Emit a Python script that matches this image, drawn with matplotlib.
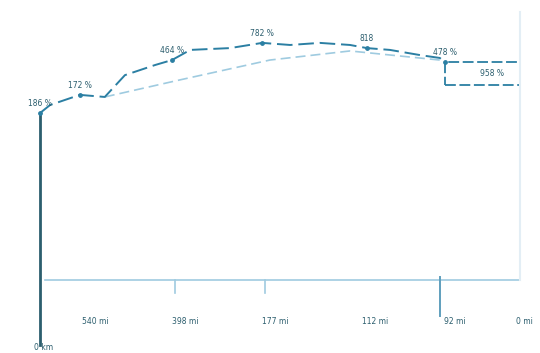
import matplotlib
matplotlib.use("Agg")
import matplotlib.pyplot as plt
from matplotlib.patches import Rectangle

# route profile, x as share of the trip (0-100), y as index value
route_x = [0, 2.1, 8.3, 13.5, 17.7, 24.0, 27.5, 31.3, 39.6, 46.3, 52.1, 58.3, 64.6, 68.1, 72.9, 79.2, 83.3, 84.4]
route_y = [64.2, 67.3, 71.2, 70.4, 78.8, 82.7, 84.6, 88.5, 89.2, 91.2, 90.4, 91.2, 90.4, 89.2, 88.5, 86.5, 85.4, 83.8]

trend_x = [13.5, 29.0, 47.9, 64.6, 83.3]
trend_y = [70.4, 76.9, 84.6, 88.1, 84.6]

point_x = [0, 8.3, 27.5, 46.3, 68.1, 84.4]
point_y = [64.2, 71.2, 84.6, 91.2, 89.2, 83.8]
point_labels = ["186 %", "172 %", "464 %", "782 %", "818", "478 %"]

box_x0, box_x1 = 84.4, 100
box_y0, box_y1 = 75.0, 83.8
box_label = "958 %"

tick_x = [28.1, 46.9, 83.3]
dist_x = [11.5, 30.2, 49.0, 69.8, 86.5, 101.0]
dist_labels = ["540 mi", "398 mi", "177 mi", "112 mi", "92 mi", "0 mi"]

teal = "#2b7fa3"
dark = "#2c5e6e"
light = "#9fcbe0"

fig = plt.figure(figsize=(5.4, 3.53), dpi=100)
ax = fig.add_axes([0, 0, 1, 1])
ax.set_xlim(-8.33, 104.17)
ax.set_ylim(-28.1, 107.7)
ax.axis("off")

# baseline and right border
ax.plot([1, 100], [0, 0], color=light, lw=1.2)
ax.plot([100, 100], [0, 103], color="#e3eef5", lw=1.5)
for tx in tick_x[:2]:
    ax.plot([tx, tx], [-5, 0], color=light, lw=1.2)
ax.plot([tick_x[2], tick_x[2]], [-14, 1], color="#5f9fbd", lw=1.4)

# start marker line
ax.plot([0, 0], [-25, 64.2], color=dark, lw=2)

ax.plot(trend_x, trend_y, color=light, lw=1.2, ls=(0, (6, 3)))
ax.plot(route_x, route_y, color=teal, lw=1.4, ls=(0, (8, 3)))
ax.scatter(point_x, point_y, s=6, color=teal, zorder=3)

ax.add_patch(Rectangle((box_x0, box_y0), box_x1 - box_x0, box_y1 - box_y0,
                       fill=False, ec=teal, lw=1.3, ls=(0, (6, 2))))
ax.text((box_x0 + box_x1) / 2 + 2, (box_y0 + box_y1) / 2, box_label,
        fontsize=5.5, color=dark, ha="center", va="center")

for x, y, s in zip(point_x, point_y, point_labels):
    ax.text(x, y + 2, s, fontsize=5.5, color=dark, ha="center", va="bottom")

for x, s in zip(dist_x, dist_labels):
    ax.text(x, -16, s, fontsize=5.5, color=dark, ha="center", va="center")
ax.text(0.8, -26, "0 km", fontsize=5.5, color=dark, ha="center", va="center")

fig.savefig("out.png", dpi=100)
